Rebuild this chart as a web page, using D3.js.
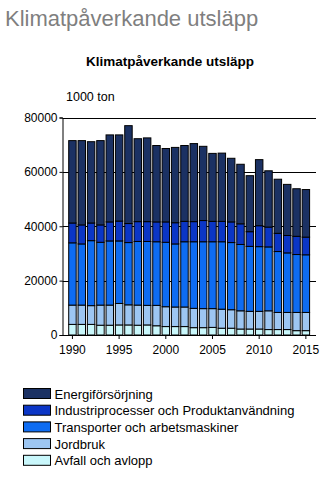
<!DOCTYPE html>
<html>
<head>
<meta charset="utf-8">
<script src="https://cdn.jsdelivr.net/npm/d3@7"></script>
<style>
  body { margin: 0; background: #fff; }
  svg { display: block; font-family: "Liberation Sans", Arial, sans-serif; }
</style>
</head>
<body>
<div id="chart"></div>
<script>
// Utsläpp per sektor, 1000 ton
const years = d3.range(1990, 2016);
const seriesNames = [
  "Energiförsörjning",
  "Industriprocesser och Produktanvändning",
  "Transporter och arbetsmaskiner",
  "Jordbruk",
  "Avfall och avlopp"
];
const energi = [30300, 31000, 29900, 31000, 32000, 31700, 36000, 30500, 30800, 28100,
  27000, 27700, 27900, 28700, 27300, 25000, 25100, 23400, 21900, 20600,
  24300, 20700, 19900, 18800, 17500, 17500];
const industri = [7300, 7000, 6500, 6400, 7000, 7300, 7000, 7300, 7300, 7300,
  7500, 7800, 7500, 7400, 7800, 7500, 7500, 7600, 7600, 5400,
  7700, 7300, 6700, 6400, 6700, 6500];
const transport = [22900, 22500, 23900, 23100, 23600, 23000, 22900, 23400, 23500, 23400,
  23700, 23200, 24000, 24500, 24600, 24600, 24800, 24700, 24400, 23900,
  23800, 23500, 22400, 21900, 21300, 21200];
const jordbruk = [7100, 7100, 6900, 7400, 7400, 7900, 7400, 7400, 7200, 7500,
  7300, 7200, 7200, 7100, 7000, 6900, 7000, 6800, 6700, 6500,
  6500, 6900, 6300, 6300, 6700, 6700];
const avfall = [3900, 3900, 3900, 3600, 3600, 3700, 3700, 3600, 3700, 3400,
  3100, 3100, 3100, 2700, 2700, 2800, 2500, 2500, 2200, 2200,
  2200, 2000, 2000, 2000, 1600, 1600];
const yTicks = [0, 20000, 40000, 60000, 80000];
const xTicks = [1990, 1995, 2000, 2005, 2010, 2015];

const colors = ["#1b3163", "#0b36c6", "#0e6cf2", "#9dc6f2", "#c9f7fb"];

// stacking order bottom -> top
const keys = ["avfall", "jordbruk", "transport", "industri", "energi"];
const keyColor = { energi: colors[0], industri: colors[1], transport: colors[2], jordbruk: colors[3], avfall: colors[4] };
const rows = years.map((y, i) => ({
  year: y, energi: energi[i], industri: industri[i], transport: transport[i],
  jordbruk: jordbruk[i], avfall: avfall[i]
}));
const stacked = d3.stack().keys(keys)(rows);

const width = 334, height = 478;
const svg = d3.select("#chart").append("svg")
  .attr("width", width).attr("height", height);

svg.append("text")
  .attr("x", 5).attr("y", 26)
  .attr("font-size", 22).attr("fill", "#7f7f7f")
  .text("Klimatpåverkande utsläpp");

svg.append("text")
  .attr("x", 170).attr("y", 66)
  .attr("text-anchor", "middle")
  .attr("font-size", 13.5).attr("font-weight", "bold").attr("fill", "#000")
  .text("Klimatpåverkande utsläpp");

svg.append("text")
  .attr("x", 66).attr("y", 101)
  .attr("font-size", 12.5).attr("fill", "#000")
  .text("1000 ton");

const plotLeft = 62.5, plotRight = 316;
const x = d3.scaleBand().domain(years).range([68.7, 309.6]).paddingInner(0.2).paddingOuter(0);
const y = d3.scaleLinear().domain([0, 80000]).range([335, 117.5]);

// grid lines behind the bars
svg.append("g").selectAll("line")
  .data(yTicks.filter(d => d > 0))
  .join("line")
  .attr("x1", plotLeft).attr("x2", plotRight)
  .attr("y1", d => Math.round(y(d)) + 0.5).attr("y2", d => Math.round(y(d)) + 0.5)
  .attr("stroke", "#000");

svg.append("g").selectAll("g")
  .data(stacked)
  .join("g")
  .attr("fill", d => keyColor[d.key])
  .selectAll("rect")
  .data(d => d)
  .join("rect")
  .attr("x", d => x(d.data.year))
  .attr("width", x.bandwidth())
  .attr("y", d => y(d[1]))
  .attr("height", d => y(d[0]) - y(d[1]))
  .attr("stroke", "#000").attr("stroke-width", 1);

// y axis
const yAxis = svg.append("g")
  .attr("transform", `translate(${plotLeft},0)`)
  .call(d3.axisLeft(y).tickValues(yTicks).tickSize(3).tickPadding(2).tickFormat(d3.format("d")));
yAxis.selectAll("text").attr("font-size", 12).attr("fill", "#000").attr("font-family", "Liberation Sans, Arial, sans-serif");
yAxis.select(".domain").attr("stroke", "#000");

// x axis
const xAxis = svg.append("g")
  .attr("transform", "translate(0,335)")
  .call(d3.axisBottom(x).tickValues(xTicks).tickSize(4).tickPadding(6).tickSizeOuter(0));
xAxis.selectAll("text").attr("font-size", 12).attr("fill", "#000").attr("font-family", "Liberation Sans, Arial, sans-serif");
xAxis.select(".domain").attr("d", `M${plotLeft},0.5H${plotRight}`).attr("stroke", "#000");

// legend
const legend = svg.append("g").selectAll("g")
  .data(seriesNames)
  .join("g")
  .attr("transform", (d, i) => `translate(23.5,${388.5 + i * 16.7})`);
legend.append("rect")
  .attr("width", 27).attr("height", 10)
  .attr("fill", (d, i) => colors[i]).attr("stroke", "#000");
legend.append("text")
  .attr("x", 31).attr("y", 10)
  .attr("font-size", 13).attr("fill", "#000")
  .text(d => d);
</script>
</body>
</html>
